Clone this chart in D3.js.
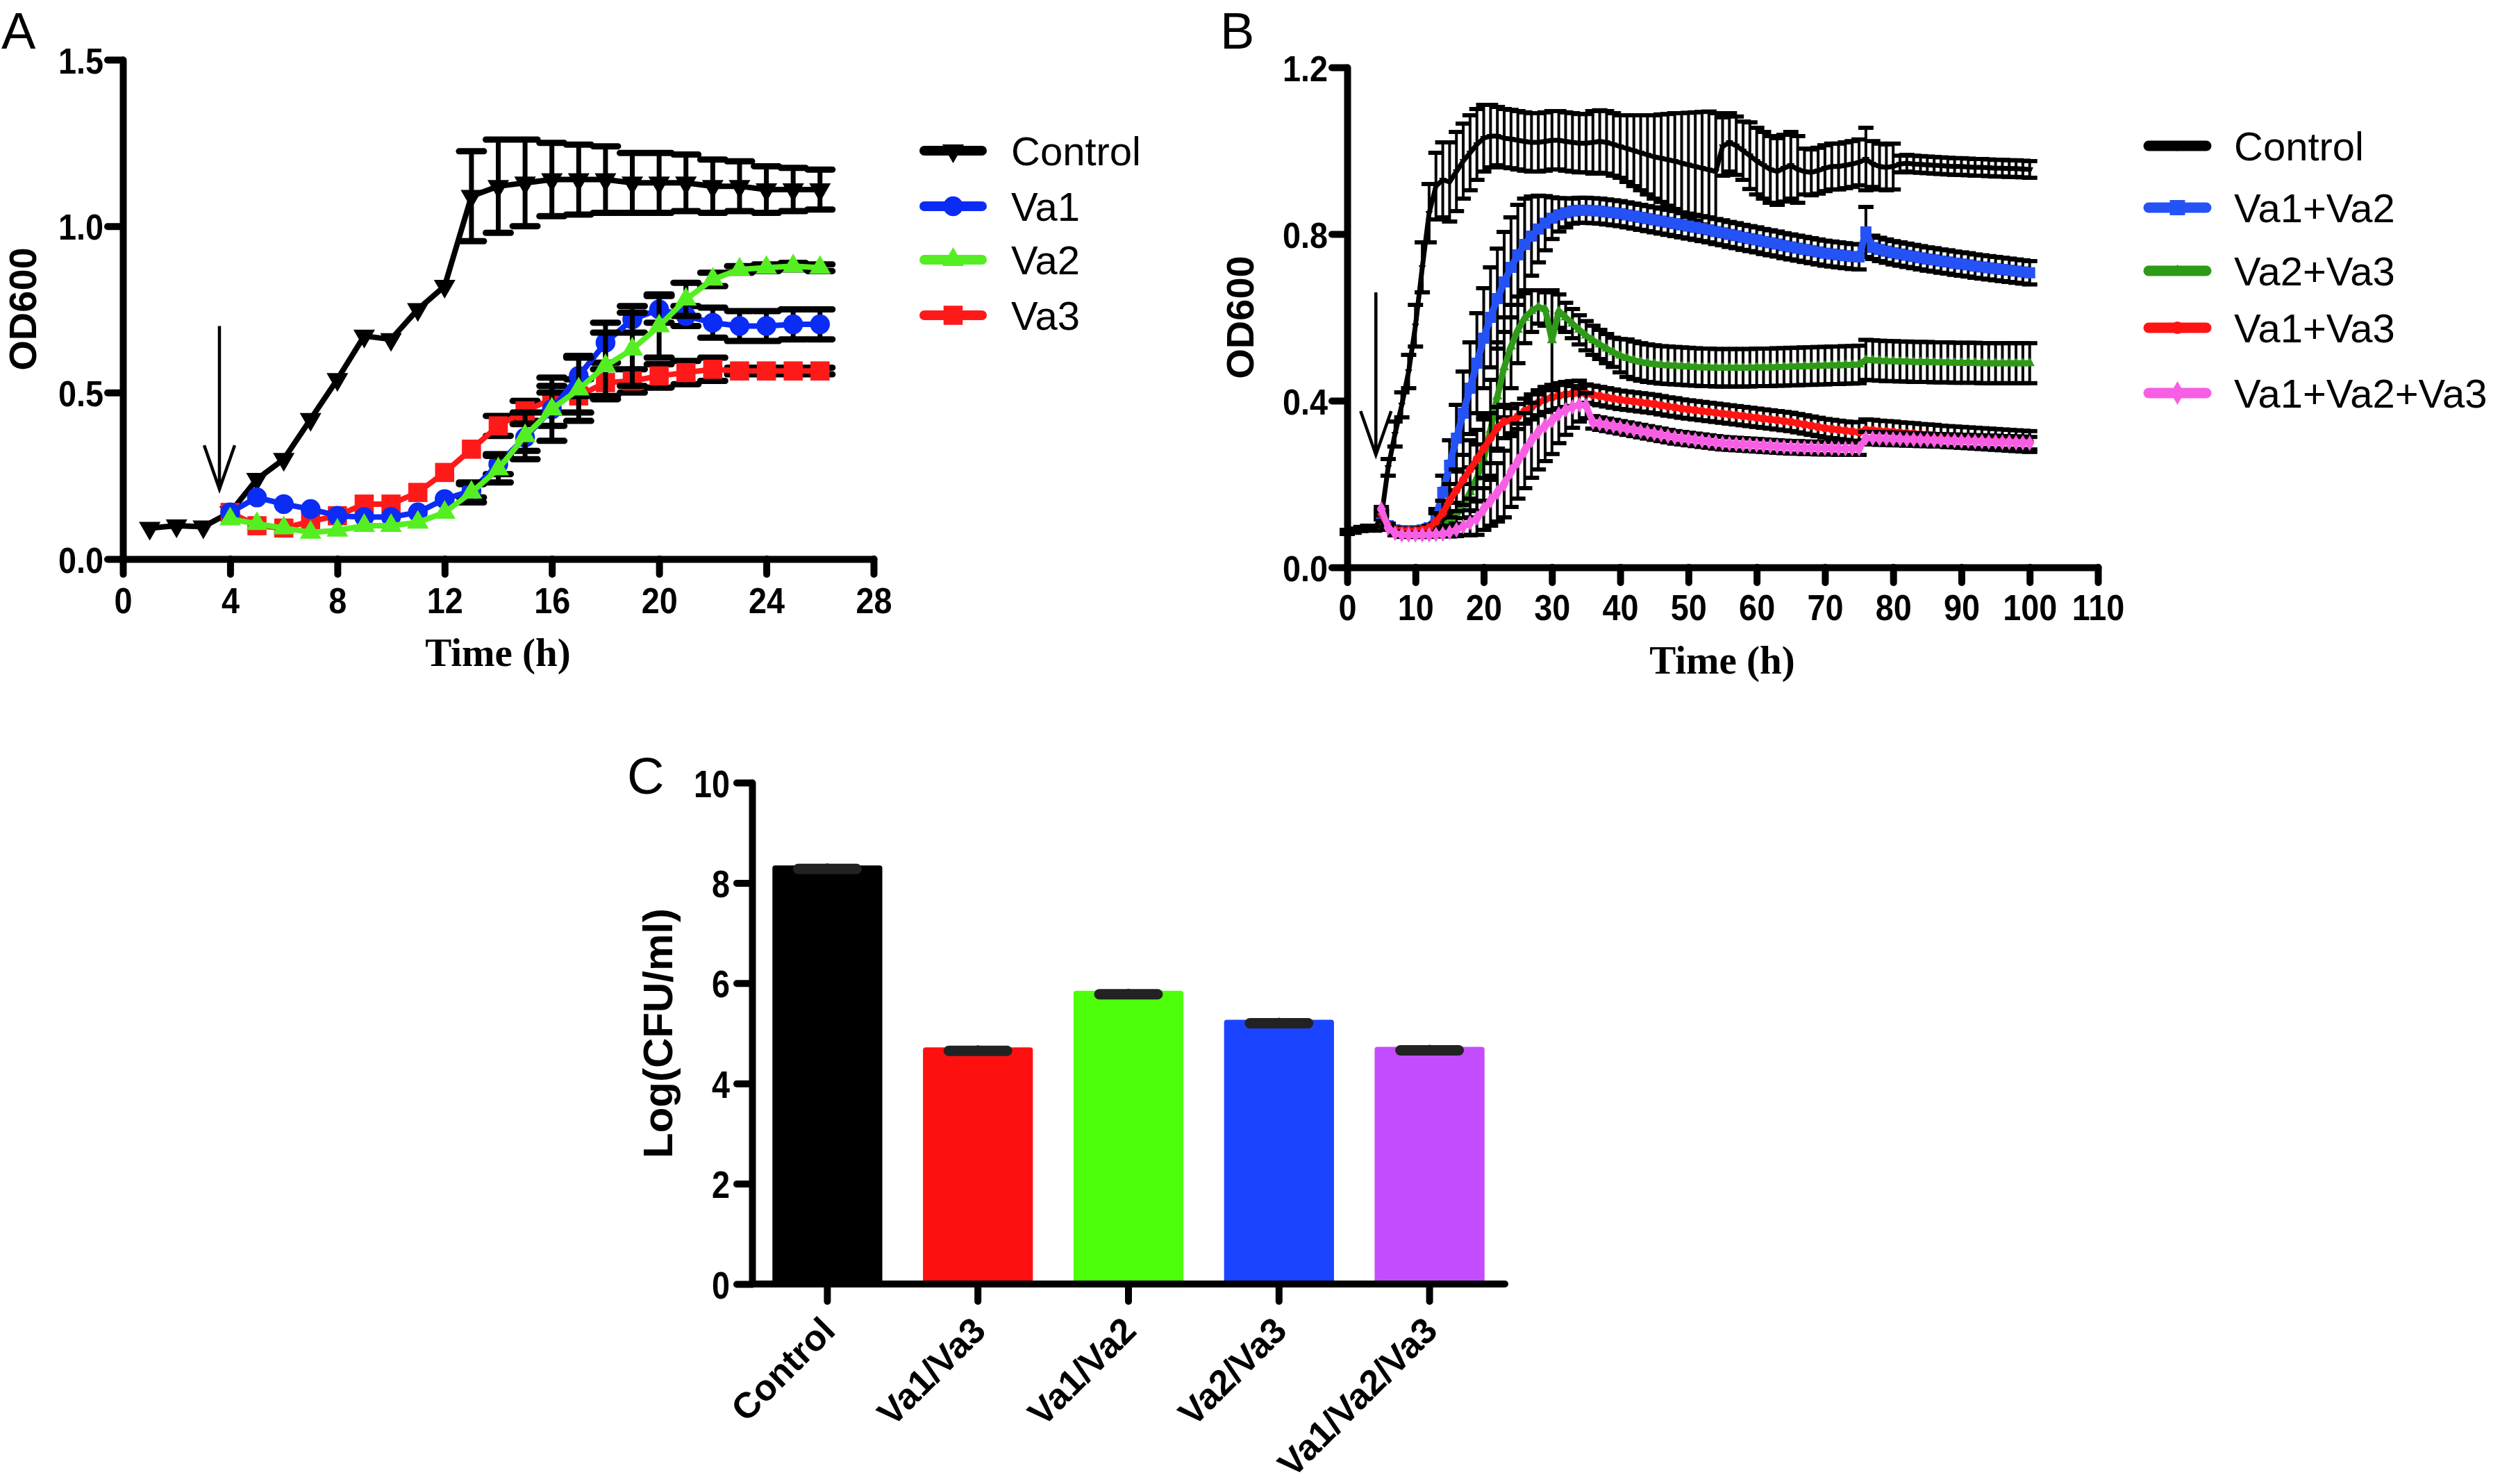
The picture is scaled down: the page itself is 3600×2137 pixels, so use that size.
<!DOCTYPE html>
<html><head><meta charset="utf-8">
<script src="https://cdn.jsdelivr.net/npm/d3@7"></script>
<style>html,body{margin:0;padding:0;background:#fff}svg{display:block}</style>
</head><body>
<svg id="fig" width="3600" height="2137"></svg>
<script>
// ---------------- Panel A data ----------------
const hoursA = [1,2,3,4,5,6,7,8,9,10,11,12,13,14,15,16,17,18,19,20,21,22,23,24,25,26];
const controlA = [0.093,0.100,0.097,0.140,0.240,0.300,0.420,0.540,0.670,0.660,0.750,0.820,1.090,1.120,1.130,1.140,1.140,1.140,1.130,1.130,1.130,1.120,1.120,1.110,1.110,1.110];
const controlA_sd = [0,0,0,0,0,0,0,0,0,0,0,0,0.135,0.14,0.13,0.11,0.105,0.10,0.09,0.09,0.085,0.08,0.075,0.07,0.065,0.06];
const hoursA2 = [4,5,6,7,8,9,10,11,12,13,14,15,16,17,18,19,20,21,22,23,24,25,26];
const va1A = [0.140,0.185,0.165,0.150,0.130,0.126,0.126,0.140,0.180,0.205,0.285,0.365,0.450,0.550,0.650,0.720,0.750,0.730,0.710,0.700,0.700,0.705,0.705];
const va1A_sd = [0,0,0,0,0,0,0,0,0,0.02,0.03,0.04,0.05,0.06,0.06,0.04,0.04,0.03,0.045,0.045,0.045,0.045,0.045];
const va2A = [0.120,0.106,0.093,0.080,0.086,0.100,0.100,0.110,0.140,0.200,0.270,0.370,0.450,0.510,0.580,0.630,0.700,0.780,0.840,0.870,0.875,0.880,0.875];
const va2A_sd = [0,0,0,0,0,0,0,0,0,0.03,0.04,0.07,0.095,0.095,0.10,0.11,0.095,0.05,0.02,0.01,0.01,0.01,0.01];
const va3A = [0.140,0.100,0.093,0.113,0.130,0.165,0.165,0.200,0.260,0.330,0.400,0.445,0.480,0.490,0.530,0.535,0.550,0.560,0.570,0.565,0.565,0.565,0.565];
const va3A_sd = [0,0,0,0,0,0,0,0,0,0,0.03,0.03,0.04,0.05,0.04,0.035,0.035,0.035,0.035,0.01,0.01,0.01,0.01];
const xTicksA = [0,4,8,12,16,20,24,28];
const yTicksA = [0,0.5,1.0,1.5];
const legendA = ["Control","Va1","Va2","Va3"];

// ---------------- Panel B data ----------------
const hoursB = [0,1,2,3,4,5,6,7,8,9,10,11,12,13,14,15,16,17,18,19,20,21,22,23,24,25,26,27,28,29,30,31,32,33,34,35,36,37,38,39,40,41,42,43,44,45,46,47,48,49,50,51,52,53,54,55,56,57,58,59,60,61,62,63,64,65,66,67,68,69,70,71,72,73,74,75,76,77,78,79,80,81,82,83,84,85,86,87,88,89,90,91,92,93,94,95,96,97,98,99,100];
const controlB = [0.085,0.088,0.092,0.095,0.093,0.120,0.240,0.320,0.390,0.470,
  0.580,0.720,0.850,0.915,0.930,0.925,0.950,0.975,0.995,1.015,
  1.030,1.035,1.035,1.030,1.028,1.025,1.022,1.020,1.020,1.022,
  1.025,1.025,1.022,1.020,1.018,1.018,1.020,1.022,1.020,1.015,
  1.010,1.005,1.000,0.995,0.990,0.985,0.982,0.978,0.975,0.970,
  0.966,0.962,0.958,0.954,0.950,1.010,1.020,1.012,1.000,0.988,
  0.975,0.965,0.955,0.950,0.958,0.965,0.955,0.950,0.948,0.952,
  0.958,0.962,0.962,0.965,0.968,0.972,0.980,0.968,0.962,0.960,
  0.962,0.968,0.970,0.968,0.967,0.966,0.965,0.964,0.963,0.962,
  0.962,0.961,0.960,0.960,0.959,0.958,0.958,0.957,0.957,0.956,0.955];
const controlB_sd = [0.005,0.005,0.005,0.005,0.005,0.005,0.02,0.03,0.03,0.04,
  0.05,0.06,0.07,0.08,0.09,0.095,0.095,0.09,0.09,0.085,
  0.08,0.075,0.07,0.07,0.07,0.07,0.07,0.07,0.07,0.07,
  0.07,0.07,0.07,0.07,0.07,0.07,0.075,0.075,0.075,0.075,
  0.075,0.08,0.085,0.09,0.095,0.10,0.105,0.11,0.115,0.12,
  0.125,0.13,0.135,0.14,0.14,0.07,0.07,0.07,0.07,0.08,
  0.08,0.08,0.08,0.08,0.08,0.08,0.08,0.055,0.055,0.055,
  0.055,0.055,0.055,0.055,0.055,0.055,0.075,0.055,0.055,0.055,
  0.055,0.02,0.02,0.02,0.02,0.02,0.02,0.02,0.02,0.02,
  0.02,0.02,0.02,0.02,0.02,0.02,0.02,0.02,0.02,0.02,0.02];
const hoursB2 = [5,6,7,8,9,10,11,12,13,14,15,16,17,18,19,20,21,22,23,24,25,26,27,28,29,30,31,32,33,34,35,36,37,38,39,40,41,42,43,44,45,46,47,48,49,50,51,52,53,54,55,56,57,58,59,60,61,62,63,64,65,66,67,68,69,70,71,72,73,74,75,76,77,78,79,80,81,82,83,84,85,86,87,88,89,90,91,92,93,94,95,96,97,98,99,100];
const va12B = [0.130,0.100,0.090,0.088,0.088,0.088,0.090,0.095,0.120,0.180,
  0.245,0.310,0.370,0.430,0.490,0.550,0.600,0.645,0.685,0.720,
  0.750,0.775,0.795,0.812,0.826,0.838,0.846,0.851,0.855,0.857,
  0.857,0.856,0.855,0.853,0.851,0.849,0.846,0.843,0.840,0.837,
  0.834,0.831,0.828,0.825,0.822,0.819,0.816,0.813,0.810,0.806,
  0.803,0.799,0.796,0.792,0.789,0.786,0.782,0.779,0.776,0.772,
  0.769,0.766,0.763,0.760,0.757,0.754,0.752,0.750,0.748,0.746,
  0.745,0.805,0.768,0.763,0.759,0.755,0.752,0.749,0.746,0.743,
  0.740,0.738,0.735,0.733,0.730,0.728,0.726,0.723,0.721,0.719,
  0.717,0.715,0.713,0.711,0.709,0.707];
const va12B_sd = [0.005,0.005,0.005,0.005,0.005,0.005,0.005,0.005,0.02,0.04,
  0.06,0.08,0.10,0.11,0.12,0.12,0.12,0.12,0.12,0.12,
  0.12,0.11,0.095,0.08,0.065,0.05,0.04,0.035,0.03,0.03,
  0.03,0.03,0.03,0.03,0.03,0.03,0.03,0.03,0.03,0.03,
  0.03,0.03,0.03,0.03,0.03,0.03,0.03,0.03,0.03,0.03,
  0.03,0.03,0.03,0.03,0.03,0.03,0.03,0.03,0.03,0.03,
  0.03,0.03,0.03,0.03,0.03,0.03,0.03,0.03,0.03,0.03,
  0.03,0.06,0.028,0.028,0.028,0.028,0.028,0.028,0.028,0.028,
  0.028,0.028,0.028,0.028,0.028,0.028,0.028,0.028,0.028,0.028,
  0.028,0.028,0.028,0.028,0.028,0.028];
const va23B = [0.130,0.100,0.090,0.088,0.088,0.088,0.088,0.090,0.095,0.100,
  0.110,0.125,0.150,0.180,0.215,0.260,0.330,0.410,0.480,0.530,
  0.570,0.598,0.615,0.625,0.620,0.545,0.615,0.600,0.585,0.570,
  0.556,0.545,0.535,0.525,0.516,0.508,0.502,0.497,0.493,0.490,
  0.488,0.486,0.485,0.484,0.483,0.482,0.481,0.480,0.480,0.479,
  0.479,0.479,0.479,0.479,0.479,0.480,0.480,0.480,0.481,0.481,
  0.482,0.482,0.483,0.483,0.484,0.484,0.485,0.485,0.486,0.486,
  0.487,0.498,0.497,0.496,0.495,0.495,0.494,0.494,0.493,0.493,
  0.493,0.492,0.492,0.492,0.491,0.491,0.491,0.491,0.490,0.490,
  0.490,0.490,0.490,0.490,0.490,0.490];
const va23B_sd = [0.005,0.005,0.005,0.005,0.005,0.005,0.005,0.005,0.01,0.015,
  0.02,0.03,0.05,0.06,0.08,0.10,0.12,0.13,0.12,0.10,
  0.08,0.06,0.05,0.04,0.04,0.12,0.04,0.035,0.035,0.035,
  0.035,0.035,0.035,0.035,0.035,0.04,0.045,0.045,0.045,0.045,
  0.045,0.045,0.045,0.045,0.045,0.045,0.045,0.045,0.045,0.045,
  0.045,0.045,0.045,0.045,0.045,0.045,0.045,0.045,0.045,0.045,
  0.045,0.045,0.045,0.045,0.045,0.045,0.045,0.045,0.045,0.045,
  0.045,0.048,0.048,0.048,0.048,0.048,0.048,0.048,0.048,0.048,
  0.048,0.048,0.048,0.048,0.048,0.048,0.048,0.048,0.048,0.048,
  0.048,0.048,0.048,0.048,0.048,0.048];
const va13B = [0.130,0.100,0.090,0.088,0.088,0.088,0.090,0.095,0.110,0.130,
  0.160,0.185,0.210,0.235,0.260,0.285,0.310,0.335,0.350,0.352,
  0.362,0.375,0.385,0.395,0.403,0.408,0.412,0.415,0.417,0.418,
  0.417,0.414,0.411,0.408,0.405,0.402,0.400,0.398,0.396,0.394,
  0.392,0.389,0.386,0.384,0.381,0.379,0.377,0.375,0.373,0.371,
  0.369,0.367,0.365,0.363,0.361,0.359,0.357,0.355,0.353,0.351,
  0.349,0.346,0.343,0.340,0.337,0.334,0.332,0.330,0.328,0.326,
  0.324,0.330,0.329,0.327,0.326,0.325,0.323,0.322,0.321,0.319,
  0.318,0.317,0.315,0.314,0.313,0.312,0.311,0.310,0.309,0.308,
  0.307,0.306,0.305,0.304,0.303,0.302];
const va13B_sd = [0.005,0.005,0.005,0.005,0.005,0.005,0.005,0.005,0.02,0.03,
  0.04,0.05,0.06,0.07,0.07,0.07,0.06,0.05,0.04,0.03,
  0.03,0.03,0.03,0.03,0.03,0.03,0.03,0.03,0.03,0.03,
  0.022,0.022,0.022,0.022,0.022,0.022,0.022,0.022,0.022,0.022,
  0.022,0.022,0.022,0.022,0.022,0.022,0.022,0.022,0.022,0.022,
  0.022,0.022,0.022,0.022,0.022,0.022,0.022,0.022,0.022,0.022,
  0.022,0.022,0.022,0.022,0.022,0.022,0.022,0.022,0.022,0.022,
  0.025,0.025,0.025,0.025,0.025,0.025,0.025,0.025,0.025,0.025,
  0.025,0.025,0.025,0.025,0.025,0.025,0.025,0.025,0.025,0.025,
  0.025,0.025,0.025,0.025,0.025,0.025];
const va123B = [0.140,0.095,0.082,0.078,0.078,0.078,0.078,0.078,0.079,0.080,
  0.084,0.090,0.098,0.107,0.118,0.140,0.160,0.180,0.200,0.230,
  0.255,0.280,0.305,0.325,0.340,0.352,0.368,0.378,0.385,0.390,
  0.388,0.348,0.345,0.342,0.339,0.336,0.333,0.330,0.327,0.324,
  0.321,0.318,0.315,0.312,0.310,0.308,0.306,0.304,0.302,0.300,
  0.298,0.297,0.296,0.295,0.294,0.293,0.292,0.291,0.290,0.289,
  0.288,0.288,0.287,0.287,0.286,0.286,0.286,0.285,0.285,0.285,
  0.285,0.310,0.310,0.309,0.309,0.308,0.308,0.307,0.307,0.306,
  0.306,0.305,0.305,0.304,0.304,0.303,0.303,0.302,0.302,0.301,
  0.301,0.300,0.300,0.299,0.299,0.298];
const va123B_sd = [0.005,0.005,0.005,0.005,0.005,0.005,0.005,0.005,0.005,0.005,
  0.01,0.015,0.02,0.03,0.04,0.05,0.06,0.07,0.08,0.085,
  0.09,0.09,0.09,0.09,0.085,0.08,0.07,0.06,0.05,0.04,
  0.03,0.015,0.015,0.015,0.015,0.015,0.015,0.015,0.015,0.015,
  0.015,0.015,0.015,0.015,0.015,0.015,0.015,0.015,0.015,0.015,
  0.015,0.015,0.015,0.015,0.015,0.015,0.015,0.015,0.015,0.015,
  0.015,0.015,0.015,0.015,0.015,0.015,0.015,0.015,0.015,0.015,
  0.015,0.015,0.015,0.015,0.015,0.015,0.015,0.015,0.015,0.015,
  0.015,0.015,0.015,0.015,0.015,0.015,0.015,0.015,0.015,0.015,
  0.015,0.015,0.015,0.015,0.015,0.015];
const xTicksB = [0,10,20,30,40,50,60,70,80,90,100,110];
const yTicksB = [0,0.4,0.8,1.2];
const legendB = ["Control","Va1+Va2","Va2+Va3","Va1+Va3","Va1+Va2+Va3"];

// ---------------- Panel C data ----------------
const categoriesC = ["Control","Va1/Va3","Va1/Va2","Va2/Va3","Va1/Va2/Va3"];
const valuesC = [8.35,4.72,5.85,5.27,4.73];
const errorsC = [0.07,0.07,0.07,0.07,0.07];
const yTicksC = [0,2,4,6,8,10];

// ---------------- drawing ----------------
const FONT = "'Liberation Sans', Arial, Helvetica, sans-serif";
const SERIF = "'Liberation Serif', 'Times New Roman', serif";
const svg = d3.select('#fig');
svg.append('rect').attr('width',3600).attr('height',2137).attr('fill','#fff');

function condense(sel, sx){
  sel.each(function(){
    const t = d3.select(this);
    const x = +t.attr('x') || 0;
    t.attr('x', x/sx).attr('transform', `scale(${sx},1)`);
  });
}
function styleAxis(g, fs){
  g.attr('font-size', null).attr('font-family', null);
  g.select('.domain').attr('stroke','#000').attr('stroke-width',10).attr('stroke-linecap','round');
  g.selectAll('.tick line').attr('stroke','#000').attr('stroke-width',10).attr('stroke-linecap','round');
  g.selectAll('.tick text').attr('fill','#000')
    .style('font-family',FONT).style('font-weight','bold').style('font-size',fs+'px');
}
function errorBars(g, xs, ms, sds, x, y, o){
  const data = xs.map((t,i)=>({t, m: ms[i], s: sds[i]})).filter(d=>d.s>0);
  const eg = g.append('g').attr('stroke', o.color).attr('stroke-linecap', o.round ? 'round' : 'butt');
  data.forEach(d=>{
    const cx = x(d.t);
    const lo = o.lowerOnly ? d.m : d.m + d.s;
    eg.append('line').attr('x1',cx).attr('x2',cx).attr('y1',y(d.m - d.s)).attr('y2',y(lo)).attr('stroke-width',o.w);
    eg.append('line').attr('x1',cx-o.cap/2).attr('x2',cx+o.cap/2).attr('y1',y(d.m - d.s)).attr('y2',y(d.m - d.s)).attr('stroke-width',o.capW);
    if(!o.lowerOnly) eg.append('line').attr('x1',cx-o.cap/2).attr('x2',cx+o.cap/2).attr('y1',y(d.m + d.s)).attr('y2',y(d.m + d.s)).attr('stroke-width',o.capW);
  });
}
function series(g, xs, ms, x, y, o){
  const data = xs.map((t,i)=>({t, v: ms[i]}));
  g.append('path').datum(data).attr('fill','none').attr('stroke',o.color).attr('stroke-width',o.lw)
    .attr('stroke-linejoin','round').attr('stroke-linecap','round')
    .attr('d', d3.line().x(d=>x(d.t)).y(d=>y(d.v)));
  g.append('g').selectAll('path').data(data).join('path')
    .attr('fill',o.color)
    .attr('transform', d=>`translate(${x(d.t)},${y(d.v)}) rotate(${o.rot||0})`)
    .attr('d', d3.symbol().type(o.symbol).size(o.size));
}
function legend(g, items, x0, x1, tx, rows, lw){
  items.forEach((it,i)=>{
    const yy = rows[i];
    g.append('line').attr('x1',x0).attr('x2',x1).attr('y1',yy).attr('y2',yy)
      .attr('stroke',it.color).attr('stroke-width',lw).attr('stroke-linecap','round');
    g.append('path').attr('fill',it.color)
      .attr('transform',`translate(${(x0+x1)/2},${yy}) rotate(${it.rot||0})`)
      .attr('d', d3.symbol().type(it.symbol).size(it.size));
    g.append('text').attr('x',tx).attr('y',yy+21).text(it.label)
      .style('font-family',FONT).style('font-size','58px').attr('fill','#000');
  });
}
function arrow(g, xv, y1v, y2v, x, y){
  const ax = x(xv), ya = y(y1v), yb = y(y2v);
  g.append('path').attr('fill','none').attr('stroke','#000').attr('stroke-width',4.5)
    .attr('d', `M${ax},${ya}V${yb}M${ax-22},${yb-63}L${ax},${yb}L${ax+22},${yb-63}`);
}
function panelLetter(x, y, s){
  svg.append('text').attr('x',x).attr('y',y).text(s)
    .style('font-family',FONT).style('font-size','74px').attr('fill','#000');
}
function axisTitle(x, y, s, rot, fs, fam, wt){
  svg.append('text').attr('transform',`translate(${x},${y}) rotate(${rot})`).attr('text-anchor','middle')
    .text(s).style('font-family',fam).style('font-size',fs+'px').style('font-weight',wt).attr('fill','#000');
}

// ===== Panel A =====
{
  const xA = d3.scaleLinear().domain([0,28]).range([177,1258]);
  const yA = d3.scaleLinear().domain([0,1.5]).range([805,86]);
  const g = svg.append('g');
  const gx = g.append('g').attr('transform','translate(0,805)')
    .call(d3.axisBottom(xA).tickValues(xTicksA).tickSize(22).tickSizeOuter(0).tickFormat(d3.format('d')));
  styleAxis(gx, 52);
  gx.selectAll('.tick text').attr('y',78).attr('dy',null);
  condense(gx.selectAll('.tick text'), 0.9);
  const gy = g.append('g').attr('transform','translate(177,0)')
    .call(d3.axisLeft(yA).tickValues(yTicksA).tickSize(22).tickSizeOuter(0).tickFormat(d3.format('.1f')));
  styleAxis(gy, 52);
  gy.selectAll('.tick text').attr('x',-28).attr('dy',null).attr('y',19);
  condense(gy.selectAll('.tick text'), 0.9);

  const cols = {c:'#000000', v1:'#0b2cf4', v2:'#55ee22', v3:'#ff1a1a'};
  const eb = {w:7, cap:36, capW:9, round:true};
  errorBars(g, hoursA, controlA, controlA_sd, xA, yA, Object.assign({color:'#000'}, eb));
  series(g, hoursA, controlA, xA, yA, {color:cols.c, lw:8, symbol:d3.symbolTriangle, size:420, rot:180});
  errorBars(g, hoursA2, va3A, va3A_sd, xA, yA, Object.assign({color:'#000'}, eb));
  series(g, hoursA2, va3A, xA, yA, {color:cols.v3, lw:8, symbol:d3.symbolSquare, size:760});
  errorBars(g, hoursA2, va1A, va1A_sd, xA, yA, Object.assign({color:'#000'}, eb));
  series(g, hoursA2, va1A, xA, yA, {color:cols.v1, lw:8, symbol:d3.symbolCircle, size:640});
  errorBars(g, hoursA2, va2A, va2A_sd, xA, yA, Object.assign({color:'#000'}, eb));
  series(g, hoursA2, va2A, xA, yA, {color:cols.v2, lw:8, symbol:d3.symbolTriangle, size:420});
  arrow(g, 3.6, 0.70, 0.21, xA, yA);

  legend(g, [
    {label:legendA[0], color:cols.c, symbol:d3.symbolTriangle, size:420, rot:180},
    {label:legendA[1], color:cols.v1, symbol:d3.symbolCircle, size:640},
    {label:legendA[2], color:cols.v2, symbol:d3.symbolTriangle, size:420},
    {label:legendA[3], color:cols.v3, symbol:d3.symbolSquare, size:760}
  ], 1331, 1414, 1456, [217,297,374,454], 14);

  panelLetter(2, 70, 'A');
  axisTitle(52, 445, 'OD600', -90, 56, FONT, 'bold');
  axisTitle(717, 959, 'Time (h)', 0, 57, SERIF, 'bold');
}

// ===== Panel B =====
{
  const xB = d3.scaleLinear().domain([0,110]).range([1940,3021]);
  const yB = d3.scaleLinear().domain([0,1.2]).range([817,97]);
  const g = svg.append('g');
  const gx = g.append('g').attr('transform','translate(0,817)')
    .call(d3.axisBottom(xB).tickValues(xTicksB).tickSize(22).tickSizeOuter(0).tickFormat(d3.format('d')));
  styleAxis(gx, 52);
  gx.selectAll('.tick text').attr('y',76).attr('dy',null);
  condense(gx.selectAll('.tick text'), 0.9);
  const gy = g.append('g').attr('transform','translate(1940,0)')
    .call(d3.axisLeft(yB).tickValues(yTicksB).tickSize(22).tickSizeOuter(0).tickFormat(d3.format('.1f')));
  styleAxis(gy, 52);
  gy.selectAll('.tick text').attr('x',-28).attr('dy',null).attr('y',19);
  condense(gy.selectAll('.tick text'), 0.9);

  const cols = {c:'#000000', b:'#2452f5', g:'#2f9a18', r:'#ff1414', p:'#f85ee4'};
  const eb = {w:4, cap:22, capW:6, round:false};
  errorBars(g, hoursB, controlB, controlB_sd, xB, yB, Object.assign({color:'#000'}, eb));
  series(g, hoursB, controlB, xB, yB, {color:cols.c, lw:7, symbol:d3.symbolTriangle, size:50, rot:180});
  errorBars(g, hoursB2, va12B, va12B_sd, xB, yB, Object.assign({color:'#000'}, eb));
  series(g, hoursB2, va12B, xB, yB, {color:cols.b, lw:10, symbol:d3.symbolSquare, size:256});
  errorBars(g, hoursB2, va23B, va23B_sd, xB, yB, Object.assign({color:'#000'}, eb));
  series(g, hoursB2, va23B, xB, yB, {color:cols.g, lw:9, symbol:d3.symbolTriangle, size:90});
  errorBars(g, hoursB2, va13B, va13B_sd, xB, yB, Object.assign({color:'#000'}, eb));
  series(g, hoursB2, va13B, xB, yB, {color:cols.r, lw:9, symbol:d3.symbolCircle, size:120});
  errorBars(g, hoursB2, va123B, va123B_sd, xB, yB, Object.assign({color:'#000'}, eb));
  series(g, hoursB2, va123B, xB, yB, {color:cols.p, lw:9, symbol:d3.symbolDiamond, size:150});
  arrow(g, 4.2, 0.66, 0.27, xB, yB);

  legend(g, [
    {label:legendB[0], color:cols.c, symbol:d3.symbolTriangle, size:90, rot:180},
    {label:legendB[1], color:cols.b, symbol:d3.symbolSquare, size:480},
    {label:legendB[2], color:cols.g, symbol:d3.symbolTriangle, size:110},
    {label:legendB[3], color:cols.r, symbol:d3.symbolCircle, size:250},
    {label:legendB[4], color:cols.p, symbol:d3.symbolDiamond, size:330}
  ], 3094, 3177, 3217, [210,299,390,472,566], 15);

  panelLetter(1757, 70, 'B');
  axisTitle(1805, 457, 'OD600', -90, 56, FONT, 'bold');
  axisTitle(2480, 970, 'Time (h)', 0, 57, SERIF, 'bold');
}

// ===== Panel C =====
{
  const xC = d3.scaleBand().domain(categoriesC).range([1083,2167]).paddingInner(0.27).paddingOuter(0.135);
  const yC = d3.scaleLinear().domain([0,10]).range([1849,1127]);
  const colsC = ['#000000','#ff1010','#4dff0a','#1a44ff','#c44cff'];
  const g = svg.append('g');
  g.selectAll('rect.bar').data(categoriesC).join('rect').attr('class','bar')
    .attr('x', d=>xC(d)).attr('width', xC.bandwidth())
    .attr('y', (d,i)=>yC(valuesC[i])).attr('height', (d,i)=>yC(0)-yC(valuesC[i]))
    .attr('rx',4).attr('fill',(d,i)=>colsC[i]);
  errorBars(g, categoriesC, valuesC, errorsC, d=>xC(d)+xC.bandwidth()/2, yC,
    {color:'#222', w:6, cap:84, capW:15, round:true, lowerOnly:true});

  const gx = g.append('g').attr('transform','translate(0,1849)')
    .call(d3.axisBottom(xC).tickSize(25).tickSizeOuter(0));
  styleAxis(gx, 52);
  gx.select('.domain').attr('d','M1083,0H2167');
  gx.selectAll('.tick text').attr('text-anchor','end').attr('dy',null).attr('y',null)
    .attr('transform','translate(14,70) rotate(-45)');
  const gy = g.append('g').attr('transform','translate(1083,0)')
    .call(d3.axisLeft(yC).tickValues(yTicksC).tickSize(22).tickSizeOuter(0).tickFormat(d3.format('d')));
  styleAxis(gy, 55);
  gy.selectAll('.tick text').attr('x',-32).attr('dy',null).attr('y',20);
  condense(gy.selectAll('.tick text'), 0.85);

  panelLetter(903, 1143, 'C');
  axisTitle(968, 1488, 'Log(CFU/ml)', -90, 60, FONT, 'bold');
}
</script>
</body></html>
